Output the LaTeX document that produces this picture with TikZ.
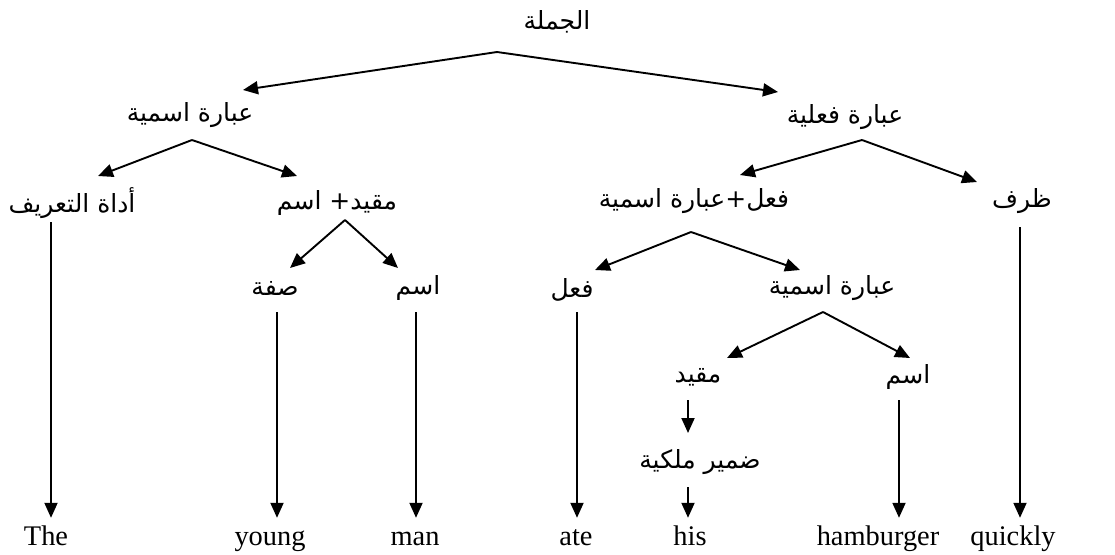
\documentclass[tikz,border=0pt]{standalone}
\usepackage{fontspec}
\setmainfont{Liberation Serif}
\newfontfamily\arabicfont[Script=Arabic]{DejaVu Sans}
\TeXXeTstate=1
\usetikzlibrary{arrows.meta}

\tikzset{
  ar/.style={font=\arabicfont\fontsize{25}{29}\selectfont, inner sep=0pt, anchor=center},
  word/.style={font=\fontsize{28.4}{32}\selectfont, inner sep=0pt, anchor=base, text height=27pt},
  arr/.style={line width=1.9pt, -{Triangle[length=15pt,width=13pt]}},
}

\begin{document}
\begin{tikzpicture}[x=1pt,y=-1pt]
\useasboundingbox[fill=white] (0,0) rectangle (1115,554);

% ---- labels (Arabic) ----
\node[ar] (root) at (557,22)  {\beginR الجملة\endR};
\node[ar] (npL)  at (190,115) {\beginR عبارة اسمية\endR};
\node[ar] (vp)   at (845,117) {\beginR عبارة فعلية\endR};
\node[ar] (art)  at (72,203)  {\beginR أداة التعريف\endR};
\node[ar] (mn)   at (337,203) {\beginR مقيد+ اسم\endR};
\node[ar] (vnp)  at (694,201) {\beginR فعل+عبارة اسمية\endR};
\node[ar] (adv)  at (1022,201){\beginR ظرف\endR};
\node[ar] (adj)  at (275,288) {\beginR صفة\endR};
\node[ar] (nA)   at (418,288) {\beginR اسم\endR};
\node[ar] (verb) at (572,290) {\beginR فعل\endR};
\node[ar] (npR)  at (832,288) {\beginR عبارة اسمية\endR};
\node[ar] (det)  at (698,377) {\beginR مقيد\endR};
\node[ar] (nB)   at (908,377) {\beginR اسم\endR};
\node[ar] (poss) at (700,462) {\beginR ضمير ملكية\endR};

% ---- words ----
\node[word] (wThe)   at (46,545)  {The};
\node[word] (wYoung) at (270,545) {young};
\node[word] (wMan)   at (415,545) {man};
\node[word] (wAte)   at (576,545) {ate};
\node[word] (wHis)   at (690,545) {his};
\node[word] (wHam)   at (878,545) {hamburger};
\node[word] (wQuick) at (1013,545){quickly};

% ---- branching points and arrow ends ----
\coordinate (rootJ) at (497,52);
\coordinate (npLt)  at (243,90);
\coordinate (vpt)   at (778,92);

\coordinate (npLJ)  at (192,140);
\coordinate (artt)  at (98,176);
\coordinate (mnt)   at (297,176);

\coordinate (mnJ)   at (345,220);
\coordinate (adjt)  at (290,268);
\coordinate (nAt)   at (398,268);

\coordinate (vpJ)   at (862,140);
\coordinate (vnpt)  at (740,175);
\coordinate (advt)  at (977,182);

\coordinate (vnpJ)  at (691,232);
\coordinate (verbt) at (595,270);
\coordinate (npRt)  at (800,270);

\coordinate (npRJ)  at (823,312);
\coordinate (dett)  at (727,358);
\coordinate (nBt)   at (910,358);

% ---- branches ----
\draw[arr] (rootJ) -- (npLt);
\draw[arr] (rootJ) -- (vpt);
\draw[arr] (npLJ) -- (artt);
\draw[arr] (npLJ) -- (mnt);
\draw[arr] (mnJ) -- (adjt);
\draw[arr] (mnJ) -- (nAt);
\draw[arr] (vpJ) -- (vnpt);
\draw[arr] (vpJ) -- (advt);
\draw[arr] (vnpJ) -- (verbt);
\draw[arr] (vnpJ) -- (npRt);
\draw[arr] (npRJ) -- (dett);
\draw[arr] (npRJ) -- (nBt);

% ---- vertical links down to the words ----
\coordinate (artS)  at (51,222);
\coordinate (adjS)  at (277,312);
\coordinate (nAS)   at (416,312);
\coordinate (verbS) at (577,312);
\coordinate (advS)  at (1020,227);
\coordinate (detS)  at (688,400);
\coordinate (detE)  at (688,433);
\coordinate (possS) at (688,487);
\coordinate (nBS)   at (899,400);

\draw[arr] (artS)  -- (artS |- wThe.north);
\draw[arr] (adjS)  -- (adjS |- wYoung.north);
\draw[arr] (nAS)   -- (nAS |- wMan.north);
\draw[arr] (verbS) -- (verbS |- wAte.north);
\draw[arr] (advS)  -- (advS |- wQuick.north);
\draw[arr] (detS)  -- (detE);
\draw[arr] (possS) -- (possS |- wHis.north);
\draw[arr] (nBS)   -- (nBS |- wHam.north);
\end{tikzpicture}
\end{document}
